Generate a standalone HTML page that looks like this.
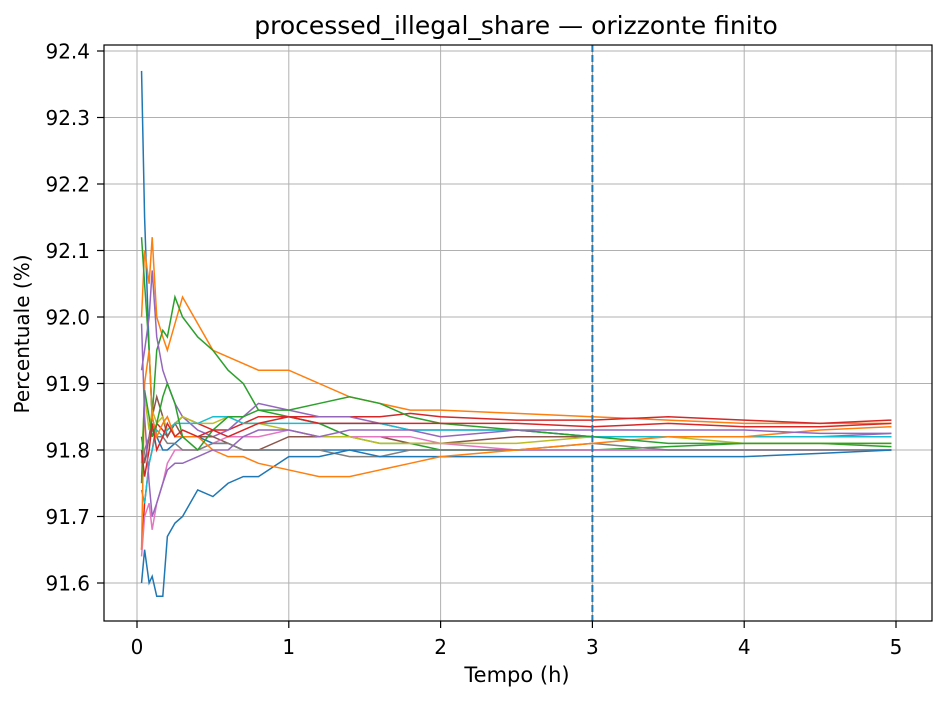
<!DOCTYPE html>
<html><head><meta charset="utf-8"><style>
body{margin:0;background:#fff;font-family:"Liberation Sans","DejaVu Sans",sans-serif}
svg text{font-family:"DejaVu Sans","Liberation Sans",sans-serif;fill:#000}
</style></head><body>
<svg id="chart" width="944" height="700" xmlns="http://www.w3.org/2000/svg">
<g id="grid"></g>
<g id="series"></g>
<g id="axes"></g>
<text x="516" y="34" text-anchor="middle" font-size="25">processed_illegal_share — orizzonte finito</text>
<text x="517" y="682" text-anchor="middle" font-size="21">Tempo (h)</text>
<text transform="translate(29,334) rotate(-90)" text-anchor="middle" font-size="20">Percentuale (%)</text>
</svg>
<script>
const times=[0.03,0.05,0.08,0.1,0.13,0.17,0.2,0.25,0.3,0.4,0.5,0.6,0.7,0.8,1,1.2,1.4,1.6,1.8,2,2.5,3,3.5,4,4.5,4.97];
const xTicks=[0,1,2,3,4,5];
const yTicks=[91.6,91.7,91.8,91.9,92.0,92.1,92.2,92.3,92.4];
const horizon=3;
const colors=["#1f77b4","#ff7f0e","#2ca02c","#d62728","#9467bd","#8c564b","#e377c2","#7f7f7f","#bcbd22","#17becf"];
const s0=[92.37,92.15,91.95,91.85,91.82,91.8,91.8,91.81,91.82,91.82,91.81,91.81,91.8,91.8,91.8,91.8,91.8,91.8,91.8,91.8,91.8,91.8,91.8,91.8,91.8,91.8];
const s1=[92.0,92.1,92.05,92.12,92.0,91.97,91.95,91.99,92.03,91.99,91.95,91.94,91.93,91.92,91.92,91.9,91.88,91.87,91.86,91.86,91.855,91.85,91.845,91.84,91.84,91.84];
const s2=[92.12,92.05,91.95,91.85,91.95,91.98,91.97,92.03,92.0,91.97,91.95,91.92,91.9,91.86,91.85,91.84,91.82,91.81,91.81,91.8,91.8,91.8,91.805,91.81,91.81,91.805];
const s3=[91.65,91.72,91.78,91.8,91.84,91.83,91.82,91.84,91.85,91.84,91.83,91.83,91.84,91.85,91.85,91.85,91.85,91.85,91.855,91.85,91.845,91.845,91.85,91.845,91.84,91.845];
const s4=[91.92,91.95,92.0,92.07,91.97,91.92,91.9,91.87,91.85,91.83,91.82,91.83,91.85,91.87,91.86,91.85,91.85,91.84,91.83,91.83,91.83,91.82,91.82,91.82,91.82,91.825];
const s5=[91.82,91.78,91.82,91.85,91.88,91.85,91.82,91.84,91.82,91.82,91.82,91.81,91.8,91.8,91.82,91.82,91.82,91.82,91.81,91.81,91.82,91.82,91.82,91.82,91.82,91.82];
const s6=[91.64,91.7,91.72,91.68,91.72,91.75,91.78,91.8,91.8,91.8,91.81,91.82,91.82,91.82,91.83,91.82,91.82,91.82,91.82,91.81,91.8,91.8,91.8,91.8,91.8,91.8];
const s7=[91.76,91.8,91.82,91.83,91.82,91.82,91.81,91.81,91.8,91.8,91.81,91.81,91.8,91.8,91.8,91.8,91.79,91.79,91.8,91.8,91.8,91.81,91.8,91.8,91.8,91.8];
const s8=[91.78,91.88,91.83,91.86,91.84,91.85,91.83,91.84,91.85,91.84,91.84,91.85,91.84,91.84,91.83,91.82,91.82,91.81,91.81,91.81,91.81,91.82,91.82,91.81,91.81,91.81];
const s9=[91.74,91.72,91.78,91.8,91.83,91.82,91.83,91.84,91.84,91.84,91.85,91.85,91.84,91.84,91.84,91.84,91.84,91.84,91.83,91.83,91.83,91.82,91.82,91.82,91.82,91.82];
const s10=[91.6,91.65,91.6,91.61,91.58,91.58,91.67,91.69,91.7,91.74,91.73,91.75,91.76,91.76,91.79,91.79,91.8,91.79,91.79,91.79,91.79,91.79,91.79,91.79,91.795,91.8];
const s11=[91.65,91.9,91.95,91.85,91.82,91.84,91.85,91.82,91.82,91.82,91.8,91.79,91.79,91.78,91.77,91.76,91.76,91.77,91.78,91.79,91.8,91.81,91.82,91.82,91.83,91.835];
const s12=[91.75,91.89,91.85,91.82,91.84,91.88,91.9,91.87,91.82,91.8,91.83,91.85,91.85,91.86,91.86,91.87,91.88,91.87,91.85,91.84,91.83,91.82,91.81,91.81,91.81,91.81];
const s13=[91.8,91.76,91.8,91.84,91.8,91.82,91.84,91.82,91.83,91.82,91.83,91.82,91.83,91.84,91.85,91.84,91.84,91.84,91.84,91.84,91.84,91.835,91.84,91.835,91.835,91.84];
const s14=[91.99,91.85,91.75,91.7,91.72,91.75,91.77,91.78,91.78,91.79,91.8,91.8,91.82,91.83,91.83,91.82,91.83,91.83,91.83,91.82,91.83,91.83,91.83,91.83,91.825,91.825];
const allSeries=[s0,s1,s2,s3,s4,s5,s6,s7,s8,s9,s10,s11,s12,s13,s14];
const L=104,R=932,T=45,B=621;
const x=v=>137+(v-0)*(896-137)/5;
const y=v=>583-(v-91.6)*(583-51)/0.8;
const NS="http://www.w3.org/2000/svg";
function mk(tag,attrs,parent){const e=document.createElementNS(NS,tag);for(const k in attrs)e.setAttribute(k,attrs[k]);parent.appendChild(e);return e;}
const grid=document.getElementById('grid'),axes=document.getElementById('axes'),ser=document.getElementById('series');
xTicks.forEach(t=>{
 const g=mk('line',{x1:x(t),x2:x(t),y1:T,y2:B,stroke:'#b0b0b0','stroke-width':1},grid);
 
 
 const tk=mk('line',{x1:x(t),x2:x(t),y1:B,y2:B+7,stroke:'#000','stroke-width':1.2},axes);
 
 
 const tx=mk('text',{x:x(t),y:654,'text-anchor':'middle','font-size':20},axes);
 tx.textContent=t;
 
 
});
yTicks.forEach(t=>{
 const g=mk('line',{x1:L,x2:R,y1:y(t),y2:y(t),stroke:'#b0b0b0','stroke-width':1},grid);
 
 
 const tk=mk('line',{x1:L-7,x2:L,y1:y(t),y2:y(t),stroke:'#000','stroke-width':1.2},axes);
 
 
 const tx=mk('text',{x:L-14,y:y(t)+7.5,'text-anchor':'end','font-size':20},axes);
 tx.textContent=t.toFixed(1);
 
 
});
allSeries.forEach((s,i)=>{
 const p=mk('polyline',{points:s.map((v,j)=>x(times[j])+','+y(v)).join(' '),fill:'none',stroke:colors[i%10],'stroke-width':1.5},ser);
 
 
});
const vl=mk('line',{x1:x(horizon),x2:x(horizon),y1:T,y2:B,stroke:'#1f77b4','stroke-width':2,'stroke-dasharray':'7,3'},ser);


const fr=mk('rect',{x:L,y:T,width:R-L,height:B-T,fill:'none',stroke:'#000','stroke-width':1.2},axes);


</script>
</body></html>
